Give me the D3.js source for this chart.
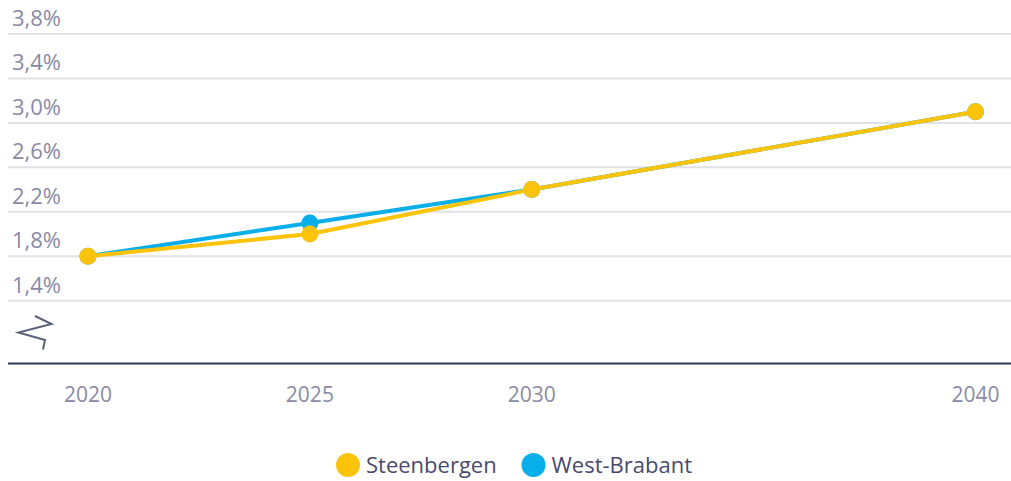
<!DOCTYPE html>
<html>
<head>
<meta charset="utf-8">
<script src="https://cdn.jsdelivr.net/npm/d3@7"></script>
<style>
  html, body { margin: 0; padding: 0; background: #ffffff; }
  svg { display: block; font-family: "Source Sans Pro", "Open Sans", Lato, sans-serif; }
</style>
</head>
<body>
<svg id="chart" width="1011" height="481"></svg>
<script>
// Population share figures (percent) per year
const years = [2020, 2025, 2030, 2040];
const steenbergen = [1.8, 2.0, 2.4, 3.1];
const westBrabant = [1.8, 2.1, 2.4, 3.1];
const yTicks = [1.4, 1.8, 2.2, 2.6, 3.0, 3.4, 3.8];
const seriesNames = ["Steenbergen", "West-Brabant"];
const seriesColors = ["#fbc40a", "#07aeea"];

const svg = d3.select("#chart");
const W = 1011;

const x = d3.scaleLinear().domain([2020, 2040]).range([88, 975.5]);
const y = d3.scaleLinear().domain([1.4, 3.8]).range([300.7, 34]);
const baseY = 363.5;

// horizontal gridlines with labels sitting above them
const grid = svg.append("g");
grid.selectAll("line").data(yTicks).join("line")
  .attr("x1", 8).attr("x2", W)
  .attr("y1", d => y(d)).attr("y2", d => y(d))
  .attr("stroke", "#e1e1e8").attr("stroke-width", 2);
grid.selectAll("text").data(yTicks).join("text")
  .attr("x", 12).attr("y", d => y(d) - 8)
  .attr("fill", "#8a8aa6").attr("font-size", 22)
  .text(d => d3.format(".1f")(d).replace(".", ",") + "%");

// axis break mark
svg.append("path")
  .attr("d", "M35,316 L51.5,324 L18.5,332.5 L45,340 L43,349.5")
  .attr("fill", "none").attr("stroke", "#5b6178").attr("stroke-width", 2)
  .attr("stroke-linejoin", "miter");

// baseline
svg.append("line")
  .attr("x1", 8).attr("x2", W).attr("y1", baseY).attr("y2", baseY)
  .attr("stroke", "#2e3858").attr("stroke-width", 2);

// x-axis year labels
svg.append("g").selectAll("text").data(years).join("text")
  .attr("x", d => x(d)).attr("y", 402)
  .attr("text-anchor", "middle")
  .attr("fill", "#8a8aa6").attr("font-size", 21)
  .text(d => d);

const line = d3.line().x((d, i) => x(years[i])).y(d => y(d));

// blue series first so the yellow one sits on top where they overlap
const seriesData = [westBrabant, steenbergen];
const seriesCol = [seriesColors[1], seriesColors[0]];
seriesData.forEach((vals, k) => {
  const g = svg.append("g");
  g.append("path").datum(vals)
    .attr("d", line).attr("fill", "none")
    .attr("stroke", seriesCol[k]).attr("stroke-width", 4)
    .attr("stroke-linejoin", "round");
  g.selectAll("circle").data(vals).join("circle")
    .attr("cx", (d, i) => x(years[i])).attr("cy", d => y(d))
    .attr("r", 8.5).attr("fill", seriesCol[k]);
});

// legend
const legend = svg.append("g");
const legendX = [348, 533.5];
seriesNames.forEach((name, i) => {
  legend.append("circle").attr("cx", legendX[i]).attr("cy", 465).attr("r", 12)
    .attr("fill", seriesColors[i]);
  legend.append("text").attr("x", legendX[i] + 18).attr("y", 472.5)
    .attr("fill", "#4a4a6e").attr("font-size", 22)
    .text(name);
});
</script>
</body>
</html>
